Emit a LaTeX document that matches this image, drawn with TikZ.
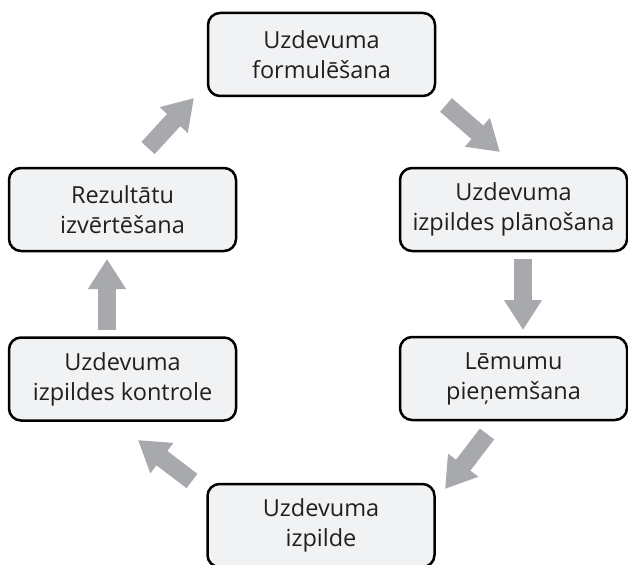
\documentclass[tikz,border=0pt]{standalone}
\usepackage{fontspec}
\setmainfont{Open Sans}
\usetikzlibrary{arrows.meta}
\definecolor{boxfill}{HTML}{F1F2F4}
\definecolor{arrowgray}{HTML}{A7A9AC}
\definecolor{txt}{HTML}{231F20}
\begin{document}
\begin{tikzpicture}[x=1pt,y=-1pt,
  stepbox/.style={draw=black, line width=2.5pt, fill=boxfill, rounded corners=12pt,
    minimum width=227pt, minimum height=83pt, align=center,
    font=\fontsize{23.5}{30}\selectfont, text=txt, inner sep=0pt},
  flow/.style={draw=arrowgray, line width=18pt, -{Triangle[width=36pt,length=30pt]}}]
\useasboundingbox (0,0) rectangle (628,564);
\node[stepbox] (f) at (321.5,54.5) {Uzdevuma\\formulēšana};
\node[stepbox] (p) at (513.5,209.5) {Uzdevuma\\izpildes plānošana};
\node[stepbox] (l) at (513.5,378.5) {Lēmumu\\pieņemšana};
\node[stepbox] (i) at (321,525.5) {Uzdevuma\\izpilde};
\node[stepbox] (k) at (122.5,379) {Uzdevuma\\izpildes kontrole};
\node[stepbox] (r) at (122.5,209.5) {Rezultātu\\izvērtēšana};
\coordinate (a1s) at (446,105); \coordinate (a1e) at (500,152);
\coordinate (a2s) at (523,259); \coordinate (a2e) at (523,330);
\coordinate (a3s) at (487,434); \coordinate (a3e) at (445,489);
\coordinate (a4s) at (192,481); \coordinate (a4e) at (138,440);
\coordinate (a5s) at (107,330); \coordinate (a5e) at (107,259);
\coordinate (a6s) at (148,148); \coordinate (a6e) at (194,98);
\draw[flow] (a1s) -- (a1e);
\draw[flow] (a2s) -- (a2e);
\draw[flow] (a3s) -- (a3e);
\draw[flow] (a4s) -- (a4e);
\draw[flow] (a5s) -- (a5e);
\draw[flow] (a6s) -- (a6e);
\end{tikzpicture}
\end{document}
